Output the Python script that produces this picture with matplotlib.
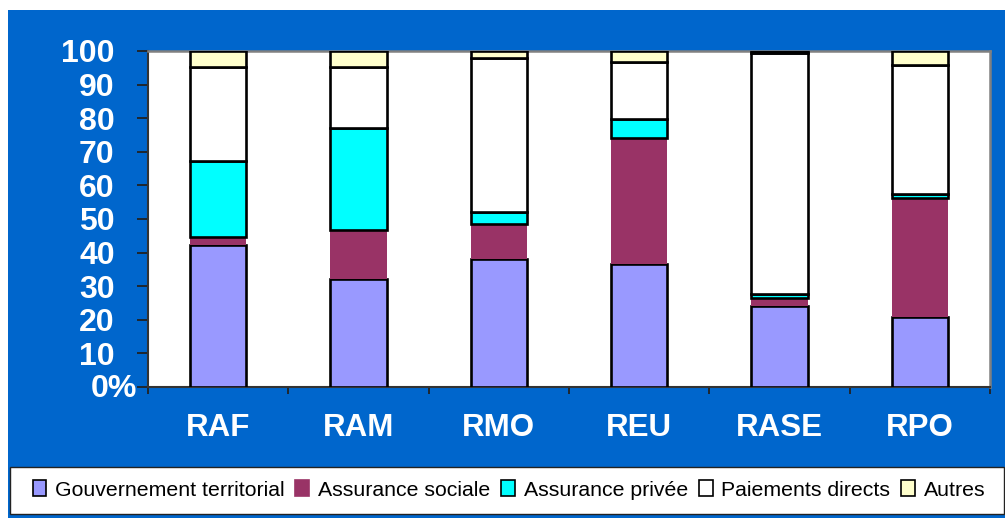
import matplotlib
matplotlib.use("Agg")
import matplotlib.pyplot as plt
import matplotlib.patches as mpatches
import numpy as np
from matplotlib import rcParams

rcParams.update({
    "font.family": ["Liberation Sans", "DejaVu Sans"],
})

# ─── données (%) ──────────────────────────────────────────────────────────────
REGIONS      = ["RAF", "RAM", "RMO", "REU", "RASE", "RPO"]
gouvernement = [42.4, 32.0, 38.1, 36.6, 24.2, 20.8]
sociale      = [2.1, 14.6, 10.5, 37.6, 2.3, 35.5]
privee       = [22.7, 30.4, 3.5, 5.7, 1.2, 1.2]
directs      = [28.0, 18.2, 45.8, 16.7, 71.7, 38.4]
autres       = [4.8, 4.8, 2.1, 3.4, 0.6, 4.1]

SERIES = [
    ("Gouvernement territorial", gouvernement, "#9999FF", 1.9),
    ("Assurance sociale",        sociale,      "#993366", 0.0),
    ("Assurance privée",         privee,       "#00FFFF", 1.9),
    ("Paiements directs",        directs,      "#FFFFFF", 1.9),
    ("Autres",                   autres,       "#FFFFCC", 1.9),
]

BLEU = "#0066CC"

fig = plt.figure(figsize=(10.05, 5.18), dpi=100)
fig.patch.set_facecolor("white")

# fond bleu
fig.add_artist(mpatches.Rectangle((8 / 1005, 0), 1, (518 - 10) / 518,
                                  transform=fig.transFigure,
                                  facecolor=BLEU, edgecolor="none", zorder=0))
# boîte de la légende
fig.add_artist(mpatches.Rectangle((10 / 1005, (518 - 514) / 518),
                                  (1004 - 10) / 1005, 47 / 518,
                                  transform=fig.transFigure,
                                  facecolor="white", edgecolor="#222222",
                                  linewidth=1.0, zorder=1))

ax = fig.add_axes([148 / 1005, (518 - 387) / 518,
                   (990 - 148) / 1005, (387 - 51) / 518])
ax.set_facecolor("white")

x = np.arange(len(REGIONS))
bottom = np.zeros(len(REGIONS))
handles = []
for label, vals, color, lw in SERIES:
    vals = np.array(vals)
    ax.bar(x, vals, 0.4, bottom=bottom, color=color,
           edgecolor="black", linewidth=lw, zorder=3)
    bottom += vals
    handles.append(mpatches.Patch(facecolor=color,
                                  edgecolor="black" if lw else color,
                                  linewidth=1.2, label=label))

ax.set_xlim(-0.5, len(REGIONS) - 0.5)
ax.set_ylim(0, 100)

# axes
for side in ("top", "right"):
    ax.spines[side].set_color("#808080")
    ax.spines[side].set_linewidth(1.8)
for side in ("left", "bottom"):
    ax.spines[side].set_color("#333333")
    ax.spines[side].set_linewidth(1.5)

ax.set_yticks(np.arange(0, 101, 10))
ax.set_yticklabels([""] + [str(v) for v in range(10, 101, 10)])
ax.tick_params(axis="y", direction="out", length=8, width=1.3,
               color="#222222", labelsize=23, labelcolor="white", pad=16)
for t in ax.get_yticklabels():
    t.set_fontweight("bold")

# "0%" collé à l'axe
ax.annotate("0%", xy=(0, 0), xycoords="axes fraction",
            xytext=(-11, -2), textcoords="offset pixels",
            ha="right", va="center", fontsize=23, fontweight="bold",
            color="white", annotation_clip=False)

ax.set_xticks(x)
ax.set_xticklabels(REGIONS)
ax.set_xticks(np.arange(-0.5, len(REGIONS), 1.0), minor=True)
ax.tick_params(axis="x", which="major", length=0, labelsize=22.5,
               labelcolor="white", pad=19)
ax.tick_params(axis="x", which="minor", direction="out", length=5,
               width=1.3, color="#222222")
for t in ax.get_xticklabels():
    t.set_fontweight("bold")

leg = fig.legend(handles=handles, loc="center left",
                 bbox_to_anchor=(24 / 1005, (518 - 490) / 518),
                 ncol=5, frameon=False, fontsize=15.3,
                 handlelength=0.65, handleheight=0.75,
                 handletextpad=0.42, columnspacing=0.5, borderaxespad=0)
leg.set_zorder(5)

fig.savefig("out.png", dpi=100, facecolor=fig.get_facecolor())
